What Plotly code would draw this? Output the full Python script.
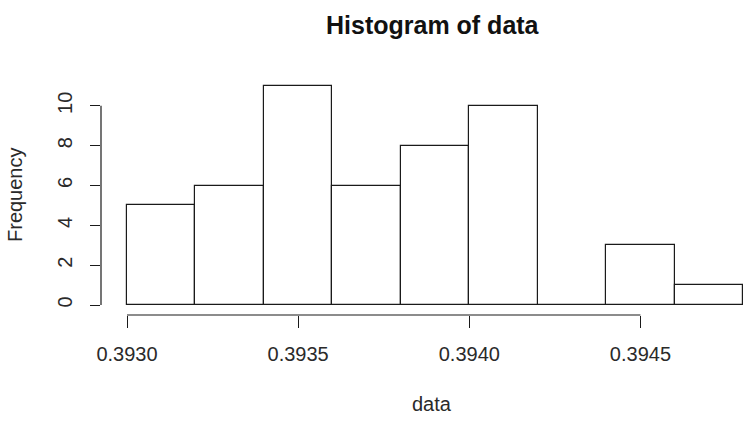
import plotly.graph_objects as go

# Data
bin_edges = [0.3930, 0.3932, 0.3934, 0.3936, 0.3938, 0.3940, 0.3942, 0.3944, 0.3946, 0.3948]
counts = [5, 6, 11, 6, 8, 10, 0, 3, 1]
x_ticks = [0.3930, 0.3935, 0.3940, 0.3945]
x_tick_labels = ["0.3930", "0.3935", "0.3940", "0.3945"]
y_ticks = [0, 2, 4, 6, 8, 10]
y_tick_labels = ["0", "2", "4", "6", "8", "10"]

centers = [(a + b) / 2 for a, b in zip(bin_edges[:-1], bin_edges[1:])]
widths = [b - a for a, b in zip(bin_edges[:-1], bin_edges[1:])]

FONT = "Liberation Sans, Arial, sans-serif"
TXT = "#2a2a2a"
LINE = "#1a1a1a"

fig = go.Figure(
    go.Bar(
        x=centers,
        y=counts,
        width=widths,
        marker=dict(color="white", line=dict(color=LINE, width=1.2)),
        hoverinfo="x+y",
    )
)

W, H = 752, 426
ml, mr, mt, mb = 101, 0, 60, 111

fig.update_layout(
    width=W,
    height=H,
    margin=dict(l=ml, r=mr, t=mt, b=mb, pad=0),
    paper_bgcolor="white",
    plot_bgcolor="white",
    showlegend=False,
    font=dict(family=FONT, color=TXT, size=20),
    bargap=0,
)

fig.update_xaxes(
    range=[0.392924, 0.394826],
    tickvals=x_ticks,
    ticktext=x_tick_labels,
    ticks="outside",
    ticklen=12,
    tickwidth=1.2,
    tickcolor=LINE,
    showgrid=False,
    zeroline=False,
    showline=False,
    ticklabelstandoff=9,
    tickfont=dict(size=20, family=FONT, color=TXT),
)
fig.update_yaxes(
    range=[-0.5, 12.3],
    tickvals=y_ticks,
    ticktext=y_tick_labels,
    ticks="outside",
    ticklen=10,
    tickwidth=1.2,
    tickcolor=LINE,
    tickangle=-90,
    showgrid=False,
    zeroline=False,
    showline=False,
    ticklabelstandoff=10,
    tickfont=dict(size=20, family=FONT, color=TXT),
)

# R-style detached axis lines spanning the tick range
fig.add_shape(type="line", xref="x", yref="paper",
              x0=x_ticks[0], x1=x_ticks[-1], y0=0, y1=0,
              line=dict(color=LINE, width=1.2))
fig.add_shape(type="line", xref="paper", yref="y",
              x0=0, x1=0, y0=y_ticks[0], y1=y_ticks[-1],
              line=dict(color=LINE, width=1.2))

pw = W - ml - mr
ph = H - mt - mb
def px_x(p):
    return (p - ml) / pw
def px_y(p):
    return (H - mb - p) / ph

fig.add_annotation(text="<b>Histogram of data</b>", xref="paper", yref="paper",
                   x=px_x(433), y=px_y(25), showarrow=False,
                   font=dict(size=25, family=FONT, color="#111111"),
                   xanchor="center", yanchor="middle")
fig.add_annotation(text="data", xref="paper", yref="paper",
                   x=px_x(432), y=px_y(404), showarrow=False,
                   font=dict(size=20, family=FONT, color=TXT),
                   xanchor="center", yanchor="middle")
fig.add_annotation(text="Frequency", xref="paper", yref="paper",
                   x=px_x(15), y=px_y(195), showarrow=False, textangle=-90,
                   font=dict(size=20, family=FONT, color=TXT),
                   xanchor="center", yanchor="middle")

fig.write_html("out.html")
